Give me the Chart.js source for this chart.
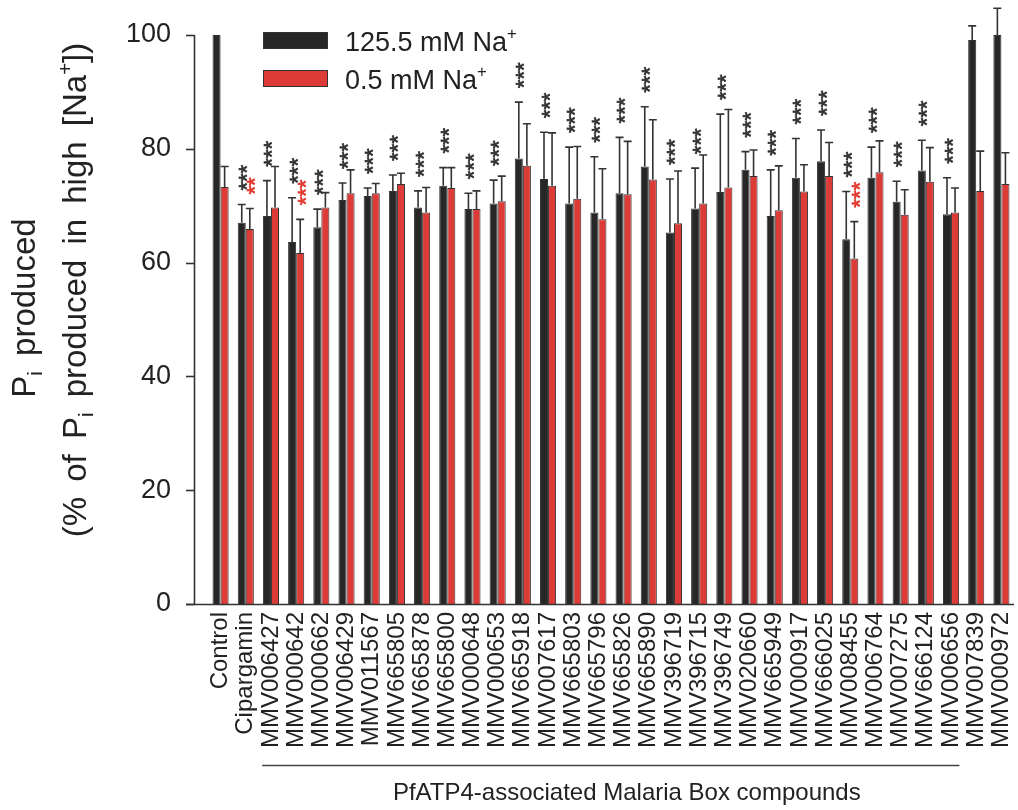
<!DOCTYPE html>
<html>
<head>
<meta charset="utf-8">
<title>Pi production by PfATP4-associated compounds</title>
<script src="https://cdn.jsdelivr.net/npm/chart.js@4.4.1/dist/chart.umd.min.js"></script>
<style>
  html, body { margin: 0; padding: 0; background: #ffffff; }
  #wrap { width: 1018px; height: 810px; }
</style>
</head>
<body>
<div id="wrap"><canvas id="chart" width="1018" height="810"></canvas></div>
<script>
// Compounds tested (x categories)
const categories = [
  'Control', 'Cipargamin',
  'MMV006427', 'MMV000642', 'MMV000662', 'MMV006429', 'MMV011567', 'MMV665805',
  'MMV665878', 'MMV665800', 'MMV000648', 'MMV000653', 'MMV665918', 'MMV007617',
  'MMV665803', 'MMV665796', 'MMV665826', 'MMV665890', 'MMV396719', 'MMV396715',
  'MMV396749', 'MMV020660', 'MMV665949', 'MMV000917', 'MMV666025', 'MMV008455',
  'MMV006764', 'MMV007275', 'MMV666124', 'MMV006656',
  'MMV007839', 'MMV000972'
];

// Pi produced, % of Pi produced in high [Na+] (mean and upper SEM)
const highNa = [100, 67.0, 68.2, 63.6, 66.2, 71.0, 71.7, 72.6, 69.7, 73.5, 69.4, 70.4, 78.3, 74.7,
  70.4, 68.8, 72.2, 76.9, 65.3, 69.5, 72.4, 76.3, 68.2, 74.9, 77.8, 64.1, 74.9, 70.7, 76.2, 68.5,
  99.1, 100];
const highNaErr = [0, 3.2, 6.2, 7.8, 3.2, 3.0, 1.4, 2.8, 2.9, 3.2, 2.8, 4.1, 9.9, 8.2,
  9.9, 9.8, 9.8, 10.5, 9.4, 7.1, 13.7, 3.2, 8.1, 6.9, 5.5, 8.4, 5.4, 3.6, 5.3, 6.4,
  2.5, 4.7];
const lowNa = [73.3, 65.9, 69.7, 61.7, 69.7, 72.2, 72.2, 73.8, 68.8, 73.1, 69.4, 70.8, 77.0, 73.5,
  71.2, 67.6, 72.0, 74.6, 66.9, 70.4, 73.2, 75.2, 69.2, 72.5, 75.2, 60.7, 75.9, 68.4, 74.2, 68.8,
  72.6, 73.8];
const lowNaErr = [3.6, 3.6, 7.2, 5.9, 2.6, 4.1, 1.7, 1.9, 4.4, 3.6, 3.2, 4.4, 7.4, 9.3,
  9.2, 8.9, 9.3, 10.5, 9.2, 8.5, 13.7, 4.6, 7.8, 4.7, 5.9, 6.5, 5.5, 4.4, 6.0, 4.3,
  7.0, 5.5];

// Significance marks above each bar
const highNaSig = ['', '***', '***', '***', '***', '***', '***', '***', '***', '***', '***', '***',
  '***', '***', '***', '***', '***', '***', '***', '***', '***', '***', '***', '***', '***', '***',
  '***', '***', '***', '***', '', ''];
const lowNaSig = ['', '**', '', '***', '', '', '', '', '', '', '', '', '', '', '', '', '', '', '',
  '', '', '', '', '', '', '***', '', '', '', '', '', ''];

// Y axis ticks
const yTicks = [0, 20, 40, 60, 80, 100];

// Grouping bracket under the Malaria Box compounds
const groupFirst = 2;
const groupLast = 29;
const groupLabel = 'PfATP4-associated Malaria Box compounds';

const FONT = '"Liberation Sans", Arial, Helvetica, sans-serif';
const INK = '#222222';
const AXIS = '#333333';
const BLACK_BAR = '#272727';
const RED_BAR = '#dc3b38';
const RED_MARK = '#e2392f';

// Rich text: pieces may be subscript, superscript, or an extra gap (in px)
function pieceSize(p, size) { return p.sub || p.sup ? size * 0.62 : size; }
function richWidth(ctx, parts, size) {
  let w = 0;
  for (const p of parts) {
    if (p.gap) { w += p.gap; continue; }
    ctx.font = pieceSize(p, size) + 'px ' + FONT;
    w += ctx.measureText(p.t).width;
  }
  return w;
}
function drawRich(ctx, parts, x, y, size) {
  let cx = x;
  for (const p of parts) {
    if (p.gap) { cx += p.gap; continue; }
    ctx.font = pieceSize(p, size) + 'px ' + FONT;
    let dy = 0;
    if (p.sub) dy = size * 0.22;
    if (p.sup) dy = -size * 0.42;
    ctx.fillText(p.t, cx, y + dy);
    cx += ctx.measureText(p.t).width;
  }
}

const axisPlugin = {
  id: 'axisLines',
  afterDraw(chart) {
    const { ctx, chartArea } = chart;
    const y = chart.scales.y;
    const x = chart.scales.x;
    const axisX = chartArea.left - 13.5;
    ctx.save();
    ctx.strokeStyle = AXIS;
    ctx.lineWidth = 1.6;
    ctx.beginPath();
    ctx.moveTo(axisX, y.getPixelForValue(100));
    ctx.lineTo(axisX, y.getPixelForValue(0));
    ctx.stroke();
    for (const v of yTicks) {
      const py = Math.round(y.getPixelForValue(v)) + 0.5;
      ctx.beginPath();
      ctx.moveTo(axisX - 8.5, py);
      ctx.lineTo(axisX, py);
      ctx.stroke();
    }
    const by = Math.round(y.getPixelForValue(0)) + 0.5;
    ctx.beginPath();
    ctx.moveTo(axisX - 8.5, by);
    ctx.lineTo(chartArea.right, by);
    ctx.stroke();

    // grouping bracket and its caption
    const gx0 = x.getPixelForValue(groupFirst) - 8.8;
    const gx1 = x.getPixelForValue(groupLast) + 8.4;
    ctx.lineWidth = 1.5;
    ctx.strokeStyle = '#444444';
    ctx.beginPath();
    ctx.moveTo(gx0, 765.5);
    ctx.lineTo(gx1, 765.5);
    ctx.stroke();
    ctx.fillStyle = INK;
    ctx.font = '24px ' + FONT;
    ctx.textAlign = 'center';
    ctx.textBaseline = 'alphabetic';
    ctx.fillText(groupLabel, (gx0 + gx1) / 2 + 16, 800);

    // y axis title (two lines, rotated)
    ctx.textAlign = 'left';
    const title1 = [{ t: 'P' }, { t: 'i', sub: true }, { gap: 6 }, { t: ' produced' }];
    const title2 = [{ t: '(%' }, { gap: 6 }, { t: ' of' }, { gap: 6 }, { t: ' P' }, { t: 'i', sub: true },
      { gap: 6 }, { t: ' produced' }, { gap: 6 }, { t: ' in' }, { gap: 6 }, { t: ' high' },
      { gap: 6 }, { t: ' [Na' }, { t: '+', sup: true }, { t: '])' }];
    const tSize = 33;
    ctx.save();
    ctx.translate(35, 308);
    ctx.rotate(-Math.PI / 2);
    drawRich(ctx, title1, -richWidth(ctx, title1, tSize) / 2, 0, tSize);
    ctx.restore();
    ctx.save();
    ctx.translate(86, 290);
    ctx.rotate(-Math.PI / 2);
    drawRich(ctx, title2, -richWidth(ctx, title2, tSize) / 2, 0, tSize);
    ctx.restore();

    // legend
    const entries = [
      { color: BLACK_BAR, parts: [{ t: '125.5 mM Na' }, { t: '+', sup: true }], top: 32 },
      { color: RED_BAR, parts: [{ t: '0.5 mM Na' }, { t: '+', sup: true }], top: 70 }
    ];
    for (const e of entries) {
      ctx.fillStyle = e.color;
      ctx.fillRect(263, e.top, 65, 17);
      ctx.strokeStyle = '#333333';
      ctx.lineWidth = 1;
      ctx.strokeRect(263.5, e.top + 0.5, 64, 16);
      ctx.fillStyle = INK;
      drawRich(ctx, e.parts, 345, e.top + 18.5, 27);
    }
    ctx.restore();
  }
};

const errorPlugin = {
  id: 'errorBarsAndMarks',
  afterDatasetsDraw(chart) {
    const { ctx } = chart;
    const y = chart.scales.y;
    const errs = [highNaErr, lowNaErr];
    const sigs = [highNaSig, lowNaSig];
    const sigColors = [AXIS, RED_MARK];
    ctx.save();
    chart.data.datasets.forEach((ds, di) => {
      const meta = chart.getDatasetMeta(di);
      meta.data.forEach((bar, i) => {
        const v = ds.data[i];
        const e = errs[di][i];
        const top = y.getPixelForValue(v + e);
        if (e > 0) {
          ctx.strokeStyle = AXIS;
          ctx.lineWidth = 1.6;
          ctx.beginPath();
          ctx.moveTo(bar.x, bar.y);
          ctx.lineTo(bar.x, top);
          ctx.moveTo(bar.x - 4, top);
          ctx.lineTo(bar.x + 4, top);
          ctx.stroke();
        }
        const s = sigs[di][i];
        if (s) {
          ctx.save();
          ctx.fillStyle = sigColors[di];
          ctx.strokeStyle = sigColors[di];
          ctx.lineWidth = 0.7;
          ctx.font = '22px ' + FONT;
          ctx.textAlign = 'left';
          ctx.textBaseline = 'alphabetic';
          ctx.translate(bar.x + 12.5, top - 14);
          ctx.rotate(-Math.PI / 2);
          ctx.fillText(s, 0, 0);
          ctx.strokeText(s, 0, 0);
          ctx.restore();
        }
      });
    });
    ctx.restore();
  }
};

new Chart(document.getElementById('chart'), {
  type: 'bar',
  data: {
    labels: categories,
    datasets: [
      { label: '125.5 mM Na+', data: highNa, backgroundColor: BLACK_BAR, borderColor: '#333333',
        borderWidth: 1, barPercentage: 1, categoryPercentage: 0.64, clip: false },
      { label: '0.5 mM Na+', data: lowNa, backgroundColor: RED_BAR, borderColor: '#333333',
        borderWidth: 1, barPercentage: 1, categoryPercentage: 0.64, clip: false }
    ]
  },
  options: {
    responsive: false,
    animation: false,
    devicePixelRatio: 1,
    layout: { padding: { left: 0, top: 35, right: 4, bottom: 0 } },
    plugins: { legend: { display: false }, tooltip: { enabled: false } },
    scales: {
      x: {
        grid: { display: false, drawTicks: false },
        border: { display: false },
        ticks: { autoSkip: false, maxRotation: 90, minRotation: 90, padding: 8, color: INK,
          font: { family: FONT, size: 24 } },
        afterFit(s) { s.height = 206; s.paddingLeft = 0; s.paddingRight = 0; }
      },
      y: {
        min: 0, max: 100,
        afterBuildTicks(s) { s.ticks = yTicks.map(v => ({ value: v })); },
        grid: { display: false, drawTicks: false },
        border: { display: false },
        ticks: { padding: 37, color: INK, font: { family: FONT, size: 27 } },
        afterFit(s) { s.width = 208; s.paddingTop = 0; s.paddingBottom = 0; }
      }
    }
  },
  plugins: [axisPlugin, errorPlugin]
});
</script>
</body>
</html>
